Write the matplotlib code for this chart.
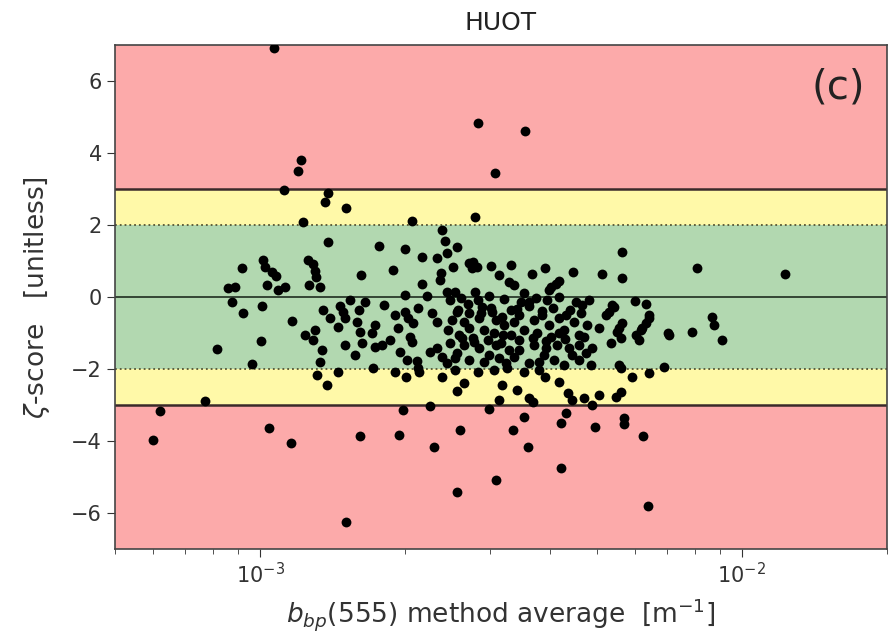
import numpy as np
import matplotlib
matplotlib.use("Agg")
import matplotlib.pyplot as plt

# b_bp(555) method average, in units of 1e-3 m^-1
bbp_555_e3 = [
    1.069, 2.830, 3.554, 3.081, 1.216, 1.199, 1.121, 1.383, 1.363, 1.506,
    1.227, 2.063, 2.790, 2.383, 1.383, 1.763, 1.996, 2.417, 2.439, 2.570,
    2.164, 2.325, 1.886, 1.618, 2.371, 2.360, 2.164, 1.996, 2.226, 2.439,
    0.918, 1.014, 1.024, 1.059, 1.079, 1.034, 1.090, 1.126, 0.858, 0.888,
    0.875, 0.922, 1.010, 1.257, 1.287, 1.300, 1.306, 1.263, 1.331, 5.646,
    5.132, 5.646, 8.07, 12.33, 2.510, 2.722, 2.762, 2.749, 2.817, 3.023,
    3.325, 3.140, 3.293, 3.372, 3.676, 3.913, 4.470, 4.025, 4.123, 4.181,
    3.986, 3.537, 2.790, 2.534, 5.382, 6.009, 6.334, 3.487, 3.623, 3.748,
    4.534, 4.664, 5.304, 6.423, 8.667, 2.896, 3.037, 3.325, 3.454, 3.857,
    4.325, 4.642, 2.570, 2.722, 1.165, 1.350, 1.464, 1.485, 1.499, 1.603,
    1.588, 1.611, 1.706, 1.730, 1.450, 1.300, 1.239, 1.287, 1.344, 1.331,
    1.499, 1.626, 1.730, 1.789, 1.714, 1.450, 1.312, 1.376, 1.931, 1.996,
    2.024, 2.073, 2.044, 2.063, 2.123, 2.270, 2.325, 1.949, 2.015, 2.113,
    2.123, 2.249, 2.325, 2.383, 1.903, 2.006, 2.143, 2.383, 1.005, 0.815,
    0.963, 0.769, 0.621, 0.600, 1.044, 1.159, 1.611, 1.940, 1.978, 2.249,
    2.292, 1.506, 9.09, 7.88, 7.025, 8.75, 6.896, 6.423, 5.920, 5.565,
    5.619, 5.488, 5.058, 4.892, 4.709, 4.449, 4.366, 4.325, 4.222, 4.181,
    3.913, 3.623, 3.694, 3.420, 3.537, 3.140, 3.186, 2.994, 2.656, 2.570,
    2.606, 3.356, 3.606, 4.962, 5.700, 5.700, 6.242, 4.222, 3.095, 2.558,
    6.395, 6.039, 6.211, 6.120, 5.565, 5.356, 4.869, 4.754, 4.449, 4.384,
    4.181, 3.932, 3.623, 3.454, 3.247, 3.262, 3.170, 2.994, 2.762, 2.570,
    2.439, 3.537, 5.435, 6.334, 6.423, 5.058, 5.646, 5.514, 5.619, 4.892,
    6.181, 7.059, 5.231, 5.619,
    2.475, 2.618, 2.830, 2.994, 3.216, 3.951, 4.181, 4.823, 2.498, 2.656,
    2.855, 3.095, 3.216, 3.372, 3.712, 3.986, 4.181, 4.490, 4.776, 2.451,
    2.594, 2.722, 2.924, 3.066, 3.325, 3.537, 3.766, 4.025, 4.283, 4.598,
    2.475, 2.656, 2.855, 3.095, 3.293, 3.712, 3.894, 4.142, 4.598, 2.534,
    2.722, 2.924, 3.140, 3.372, 3.801, 4.083, 4.283, 4.598, 2.830, 3.066,
    3.801, 2.534, 1.810, 1.903, 1.396, 1.574, 1.860, 1.649, 1.536,
    2.58, 2.70, 2.88, 3.02, 3.18, 3.42, 3.62, 3.85, 4.05, 4.40,
    2.62, 2.78, 2.97, 3.20, 3.45, 3.68, 3.92, 4.30, 4.70,
]

# zeta-score, unitless
zeta_score = [
    6.92, 4.83, 4.61, 3.44, 3.81, 3.50, 2.97, 2.89, 2.64, 2.47,
    2.08, 2.11, 2.22, 1.86, 1.53, 1.42, 1.33, 1.56, 1.22, 1.39,
    1.11, 1.08, 0.75, 0.61, 0.67, 0.47, 0.36, 0.06, 0.02, 0.14,
    0.81, 1.03, 0.83, 0.69, 0.58, 0.33, 0.19, 0.28, 0.25, 0.28,
    -0.14, -0.44, -0.25, 1.03, 0.92, 0.72, 0.56, 0.33, 0.28, 1.25,
    0.64, 0.53, 0.81, 0.64, 0.83, 0.94, 0.97, 0.81, 0.83, 0.86,
    0.89, 0.61, 0.42, 0.33, 0.64, 0.81, 0.69, 0.28, 0.36, 0.44,
    0.19, 0.11, 0.14, 0.14, -0.22, -0.11, -0.19, -0.14, -0.14, -0.03,
    -0.14, -0.22, -0.42, -0.50, -0.56, -0.28, -0.42, -0.36, -0.50, -0.50,
    -0.50, -0.44, -0.42, -0.44, -0.67, -0.36, -0.25, -0.42, -0.58, -0.36,
    -0.69, -0.97, -1.00, -0.78, -0.83, -0.92, -1.06, -1.19, -1.47, -1.81,
    -1.33, -1.28, -1.39, -1.33, -1.97, -2.08, -2.17, -2.44, -0.86, -0.42,
    -0.58, -0.72, -1.11, -1.25, -0.31, -0.44, -0.69, -1.53, -1.75, -1.78,
    -1.97, -1.53, -1.42, -1.67, -2.08, -2.22, -2.08, -2.22, -1.22, -1.44,
    -1.86, -2.89, -3.17, -3.97, -3.64, -4.06, -3.86, -3.83, -3.14, -3.03,
    -4.17, -6.25, -1.19, -0.97, -1.00, -0.78, -1.94, -2.11, -2.22, -1.89,
    -2.64, -2.78, -2.72, -3.00, -2.81, -2.86, -2.67, -3.22, -3.50, -2.36,
    -2.22, -2.81, -2.92, -2.58, -3.33, -2.86, -2.44, -3.11, -2.39, -2.61,
    -3.69, -3.69, -4.17, -3.61, -3.36, -3.53, -3.86, -4.75, -5.08, -5.42,
    -5.81, -1.06, -0.86, -1.19, -0.86, -1.28, -1.89, -1.56, -1.61, -1.42,
    -1.00, -1.42, -1.83, -1.47, -1.83, -1.97, -1.28, -1.61, -1.14, -1.56,
    -1.83, -2.08, -0.28, -0.72, -0.58, -0.86, -0.72, -0.97, -1.14, -1.42,
    -0.92, -1.06, -0.50, -1.97,
    -0.08, -0.03, -0.08, 0.03, -0.06, -0.08, -0.01, -0.08, -0.64, -0.69,
    -0.58, -0.64, -0.78, -0.69, -0.64, -0.78, -0.58, -0.69, -0.78, -0.92,
    -1.06, -0.86, -0.92, -1.00, -1.06, -0.92, -1.00, -1.11, -0.92, -1.06,
    -1.28, -1.33, -1.42, -1.33, -1.47, -1.33, -1.61, -1.33, -1.33, -1.69,
    -1.75, -1.81, -1.69, -1.67, -1.81, -1.75, -1.89, -1.75, -2.08, -2.03,
    -2.03, -2.03, -0.22, -0.50, -0.58, -1.61, -1.19, -0.14, -0.08,
    -0.35, -0.20, -0.45, -0.30, -0.55, -0.32, -0.25, -0.40, -0.30, -0.35,
    -1.15, -1.25, -1.20, -1.05, -1.20, -1.15, -1.22, -1.18, -1.10,
]

y_ticks = [-6, -4, -2, 0, 2, 4, 6]
title_text = "HUOT"
panel_label = "(c)"

x = np.array(bbp_555_e3) * 1e-3
y = np.array(zeta_score)

fig = plt.figure(figsize=(8.92, 6.39), dpi=100)
ax = fig.add_axes([0.129, 0.1408, 0.865, 0.7888])

red = "#FCAAAA"
yellow = "#FFF9A8"
green = "#B2D8B0"
ax.axhspan(3, 7, color=red, lw=0, zorder=0)
ax.axhspan(-7, -3, color=red, lw=0, zorder=0)
ax.axhspan(2, 3, color=yellow, lw=0, zorder=0)
ax.axhspan(-3, -2, color=yellow, lw=0, zorder=0)
ax.axhspan(-2, 2, color=green, lw=0, zorder=0)

for lvl in (3, -3):
    ax.axhline(lvl, color="#3a2a2a", lw=1.8, zorder=1)
ax.axhline(0, color="#2a3a2a", lw=1.3, zorder=1)
for lvl in (2, -2):
    ax.axhline(lvl, color="#555533", lw=1.3, ls=":", zorder=1)

ax.scatter(x, y, s=50, color="black", zorder=3, linewidths=0)

ax.set_xscale("log")
ax.set_xlim(5e-4, 2e-2)
ax.set_ylim(-7, 7)
ax.set_yticks(y_ticks)
ax.tick_params(axis="both", which="major", labelsize=15, colors="#333333",
               length=6)
ax.tick_params(axis="x", which="minor", length=3.5, colors="#333333")
for sp in ax.spines.values():
    sp.set_color("#444444")
    sp.set_linewidth(1.2)

ax.set_title(title_text, fontsize=18, color="#222222", pad=11)
ax.text(0.972, 0.955, panel_label, transform=ax.transAxes, fontsize=29,
        ha="right", va="top", color="#222222")
ax.set_ylabel(r"$\zeta$-score   [unitless]", fontsize=19, color="#333333")
ax.set_xlabel(r"$b_{bp}$(555) method average  [m$^{-1}$]", fontsize=19,
              color="#333333")
ax.yaxis.set_label_coords(-0.082, 0.5)
ax.xaxis.set_label_coords(0.5, -0.093)

fig.savefig("out.png", dpi=100)
